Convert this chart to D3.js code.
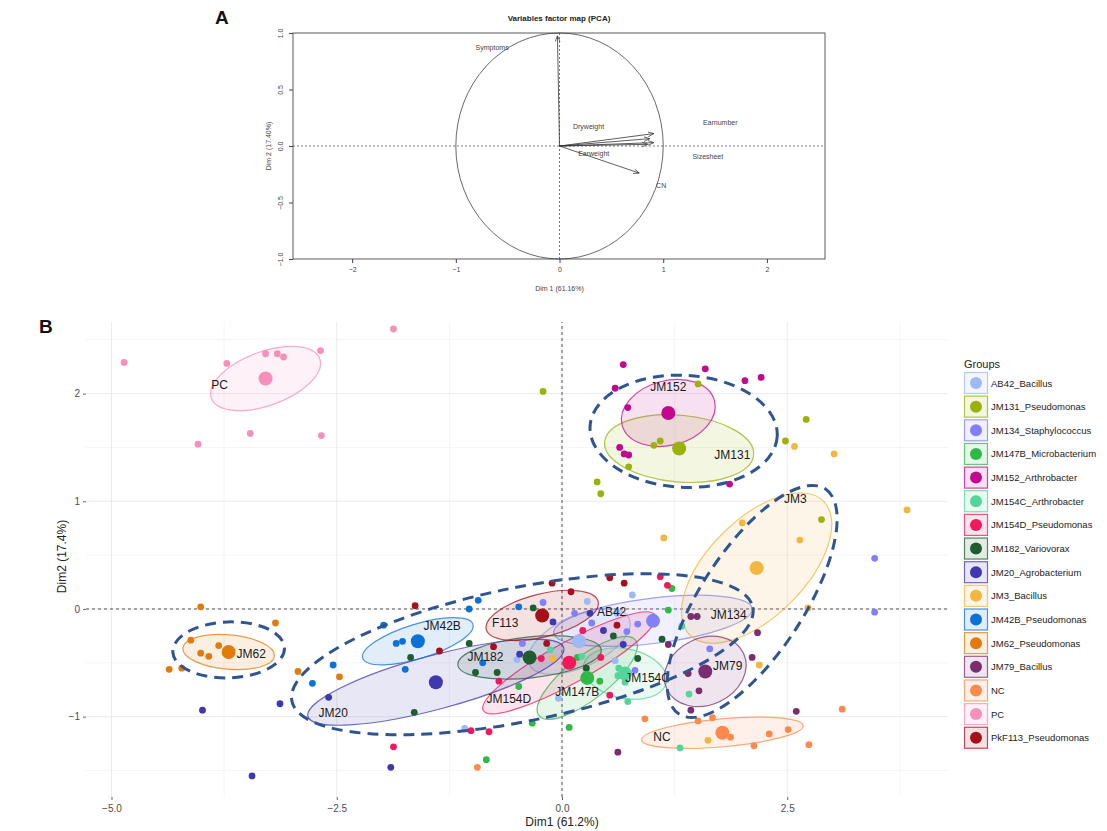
<!DOCTYPE html>
<html>
<head>
<meta charset="utf-8">
<script src="https://cdn.jsdelivr.net/npm/d3@7"></script>
<style>
  body { margin: 0; background: #fff; }
  svg { display: block; font-family: "Liberation Sans", Arial, sans-serif; }
</style>
</head>
<body>
<svg id="chart" width="1107" height="831"></svg>
<script>
// ---------- Panel A : variables factor map ----------
const varNames = ["Symptoms", "Dryweight", "Earnumber", "Earweight", "Sizesheet", "CN"];
const varX = [-0.02, 0.91, 0.87, 0.85, 0.91, 0.77];
const varY = [0.976, 0.11, 0.065, 0.015, 0.03, -0.24];
const varLabelX = [-0.65, 0.28, 1.55, 0.33, 1.43, 0.98];
const varLabelY = [0.87, 0.17, 0.21, -0.07, -0.09, -0.35];
const pcaXTicks = [-2, -1, 0, 1, 2];
const pcaYTicks = [-1, -0.5, 0, 0.5, 1];

// ---------- Panel B : individuals ----------
const groups = ["AB42_Bacillus", "JM131_Pseudomonas", "JM134_Staphylococcus", "JM147B_Microbacterium",
  "JM152_Arthrobacter", "JM154C_Arthrobacter", "JM154D_Pseudomonas", "JM182_Variovorax",
  "JM20_Agrobacterium", "JM3_Bacillus", "JM42B_Pseudomonas", "JM62_Pseudomonas",
  "JM79_Bacillus", "NC", "PC", "PkF113_Pseudomonas"];
const groupColors = ["#9DB9F6", "#9AB20A", "#8180F5", "#2FB947", "#C1098F", "#53D69B", "#F2185C", "#1F5D30",
  "#4038B0", "#F1B73E", "#0C71D7", "#E17C0A", "#7A2D70", "#FD8A4C", "#F78FBA", "#A5101A"];
const groupLabels = ["AB42", "JM131", "JM134", "JM147B", "JM152", "JM154C", "JM154D", "JM182",
  "JM20", "JM3", "JM42B", "JM62", "JM79", "NC", "PC", "F113"];

const ptsAB42 = [[0.78,0.13],[0.28,0.07],[0.61,-0.04],[-0.50,-0.47],[0.59,-0.48],[-0.04,-0.83],[-1.08,-1.11]];
const ptsJM131 = [[-0.21,2.02],[1.51,2.09],[2.71,1.76],[2.48,1.56],[1.09,1.56],[1.02,1.52],[0.74,1.32],[0.39,1.18],[0.43,1.07],[2.88,0.83]];
const ptsJM134 = [[0.14,-0.04],[0.33,-0.13],[0.84,-0.14],[0.81,-0.57],[1.64,-0.37],[3.47,0.47],[3.47,-0.03],[-0.21,0.06],[-0.44,-0.32],[0.72,-0.21]];
const ptsJM147B = [[-0.48,-0.72],[-0.33,-1.06],[-0.84,-1.40],[0.08,-1.10],[1.22,0.19],[0.17,-0.45],[1.18,-0.01],[0.42,-0.67]];
const ptsJM152 = [[0.68,2.27],[1.59,2.23],[2.03,2.12],[2.21,2.15],[0.59,2.05],[0.73,1.87],[0.64,1.50],[0.69,1.44],[0.74,1.43],[1.86,1.16]];
const ptsJM154C = [[-0.13,-0.38],[0.22,-0.44],[0.63,-0.55],[0.62,-0.62],[0.70,-0.68],[0.73,-0.86],[1.33,-0.16],[1.31,-1.29],[1.41,-0.79]];
const ptsJM154D = [[-1.87,-1.28],[-1.01,-1.13],[-0.81,-1.14],[-0.70,-0.67],[-0.23,-0.46],[0.53,-0.80],[1.09,0.30],[1.17,0.22],[0.23,-0.20],[0.43,-0.45]];
const ptsJM182 = [[-1.68,-0.45],[-1.64,-0.96],[-1.03,-0.32],[-0.96,-0.59],[-0.72,-0.59],[-0.32,0.01],[0.27,-0.55],[0.57,-0.25],[0.84,-0.46],[1.11,-0.28]];
const ptsJM20 = [[-3.99,-0.94],[-3.13,-0.88],[-3.44,-1.55],[-2.59,-0.82],[-1.90,-1.47],[-0.10,-0.12],[-0.47,-0.42],[0.31,-0.04],[0.46,-0.20],[0.68,-0.33]];
const ptsJM3 = [[3.83,0.92],[2.00,0.80],[2.64,0.64],[1.13,0.66],[2.73,0.01],[2.19,-0.52],[2.58,1.51],[3.02,1.44],[-0.10,-0.46],[1.62,-1.22]];
const ptsJM42B = [[-2.54,-0.52],[-2.77,-0.69],[-1.98,-0.15],[-1.84,-0.32],[-1.77,-0.30],[-1.74,-0.56],[-1.03,0.00],[-0.93,0.08],[-0.48,0.02],[-0.88,-0.50]];
const ptsJM62 = [[-4.01,0.02],[-3.18,-0.13],[-4.12,-0.29],[-3.81,-0.34],[-4.01,-0.41],[-3.92,-0.44],[-4.36,-0.56],[-4.22,-0.55],[-2.93,-0.58],[-2.47,-0.63]];
const ptsJM79 = [[1.43,-0.07],[1.50,-0.07],[2.17,-0.22],[2.11,-0.45],[1.40,-0.60],[1.52,-0.76],[1.43,-0.94],[2.60,-0.95],[0.62,-1.33],[1.18,-0.33]];
const ptsNC = [[0.92,-1.02],[1.51,-1.04],[1.67,-1.01],[1.87,-1.19],[2.13,-1.27],[2.30,-1.16],[2.51,-1.12],[2.74,-1.26],[3.11,-0.93],[-0.94,-1.47]];
const ptsPC = [[-4.86,2.29],[-3.72,2.28],[-3.29,2.37],[-3.16,2.37],[-3.09,2.34],[-2.68,2.40],[-3.46,1.63],[-4.04,1.53],[-2.67,1.61],[-1.87,2.60]];
const ptsF113 = [[-1.63,0.03],[-1.36,-0.39],[-0.76,-0.35],[-0.17,-0.32],[-0.11,0.24],[0.10,0.16],[0.53,0.29],[0.69,0.24],[0.61,-0.15]];
const groupPoints = [ptsAB42, ptsJM131, ptsJM134, ptsJM147B, ptsJM152, ptsJM154C, ptsJM154D, ptsJM182,
  ptsJM20, ptsJM3, ptsJM42B, ptsJM62, ptsJM79, ptsNC, ptsPC, ptsF113];

// group means (big points)
const centroidX = [0.19, 1.30, 1.01, 0.28, 1.18, 0.70, 0.08, -0.36, -1.40, 2.16, -1.60, -3.70, 1.59, 1.78, -3.29, -0.22];
const centroidY = [-0.30, 1.49, -0.11, -0.64, 1.82, -0.60, -0.50, -0.45, -0.68, 0.38, -0.30, -0.40, -0.58, -1.15, 2.14, -0.06];
// confidence ellipses: semi-axes and tilt (degrees)
const ellA = [0.61, 0.83, 1.11, 0.68, 0.53, 0.47, 1.09, 0.80, 1.47, 1.05, 0.64, 0.51, 0.47, 0.90, 0.64, 0.64];
const ellB = [0.24, 0.31, 0.21, 0.20, 0.30, 0.23, 0.19, 0.19, 0.25, 0.45, 0.16, 0.16, 0.31, 0.13, 0.25, 0.20];
const ellAngle = [25, -5, 7, 38, 15, -12, 29, 6, 15, 45, 17, -5, 25, 5, 20, 14];
// label positions
const labelX = [0.55, 1.89, 1.85, 0.17, 1.18, 0.95, -0.59, -0.85, -2.54, 2.59, -1.33, -3.45, 1.84, 1.11, -3.80, -0.63];
const labelY = [-0.03, 1.43, -0.06, -0.77, 2.06, -0.64, -0.84, -0.45, -0.97, 1.02, -0.16, -0.42, -0.53, -1.19, 2.08, -0.13];

// hand-drawn cluster outlines (dashed)
const clusterX = [1.35, 2.11, -0.44, -3.70];
const clusterY = [1.65, 0.07, -0.42, -0.38];
const clusterA = [1.04, 1.49, 2.61, 0.62];
const clusterB = [0.52, 0.48, 0.62, 0.26];
const clusterAngle = [-3, 57, 11.5, 2];

const bXTicks = [-5, -2.5, 0, 2.5];
const bYTicks = [-1, 0, 1, 2];
const bXMinor = [-3.75, -1.25, 1.25, 3.75];
const bYMinor = [-1.5, -0.5, 0.5, 1.5, 2.5];

const svg = d3.select("#chart");

// ================= Panel A =================
const xA = d3.scaleLinear().domain([-2.57, 2.56]).range([293, 825]);
const yA = d3.scaleLinear().domain([-1, 1]).range([259, 33]);
const gA = svg.append("g");

svg.append("text").attr("x", 215).attr("y", 24)
  .attr("font-size", 19).attr("font-weight", "bold").attr("fill", "#111").text("A");

gA.append("text").attr("x", (xA.range()[0] + xA.range()[1]) / 2).attr("y", 21)
  .attr("text-anchor", "middle").attr("font-size", 8).attr("font-weight", "bold").attr("fill", "#222")
  .text("Variables factor map (PCA)");

// unit circle
gA.append("ellipse").attr("cx", xA(0)).attr("cy", yA(0))
  .attr("rx", xA(1) - xA(0)).attr("ry", yA(0) - yA(1))
  .attr("fill", "none").attr("stroke", "#444").attr("stroke-width", 0.8);

gA.append("line").attr("x1", xA.range()[0]).attr("x2", xA.range()[1]).attr("y1", yA(0)).attr("y2", yA(0))
  .attr("stroke", "#555").attr("stroke-width", 0.8).attr("stroke-dasharray", "2 2");
gA.append("line").attr("x1", xA(0)).attr("x2", xA(0)).attr("y1", yA(1)).attr("y2", yA(-1))
  .attr("stroke", "#555").attr("stroke-width", 0.8).attr("stroke-dasharray", "2 2");

svg.append("defs").append("marker").attr("id", "arrowA")
  .attr("viewBox", "0 0 10 10").attr("refX", 10).attr("refY", 5)
  .attr("markerWidth", 6).attr("markerHeight", 6).attr("markerUnits", "userSpaceOnUse")
  .attr("orient", "auto")
  .append("path").attr("d", "M0,1 L10,5 L0,9").attr("fill", "none").attr("stroke", "#333").attr("stroke-width", 1.2);

gA.selectAll("line.arrow").data(varNames).join("line").attr("class", "arrow")
  .attr("x1", xA(0)).attr("y1", yA(0))
  .attr("x2", (d, i) => xA(varX[i])).attr("y2", (d, i) => yA(varY[i]))
  .attr("stroke", "#333").attr("stroke-width", 0.8).attr("marker-end", "url(#arrowA)");

gA.selectAll("text.var").data(varNames).join("text").attr("class", "var")
  .attr("x", (d, i) => xA(varLabelX[i])).attr("y", (d, i) => yA(varLabelY[i]))
  .attr("text-anchor", "middle").attr("dominant-baseline", "central")
  .attr("font-size", 7).attr("fill", "#444").text(d => d);

gA.append("rect").attr("x", xA.range()[0]).attr("y", yA.range()[1])
  .attr("width", xA.range()[1] - xA.range()[0]).attr("height", yA.range()[0] - yA.range()[1])
  .attr("fill", "none").attr("stroke", "#333").attr("stroke-width", 0.8);

const axA = gA.append("g").attr("transform", `translate(0,${yA.range()[0]})`)
  .call(d3.axisBottom(xA).tickValues(pcaXTicks).tickSize(4).tickFormat(d3.format("d")));
axA.select(".domain").remove();
axA.selectAll("line").attr("stroke", "#444");
axA.selectAll("text").attr("font-size", 7).attr("fill", "#444").attr("dy", "0.9em");

const ayA = gA.append("g").attr("transform", `translate(${xA.range()[0]},0)`)
  .call(d3.axisLeft(yA).tickValues(pcaYTicks).tickSize(4).tickFormat(d3.format(".1f")));
ayA.select(".domain").remove();
ayA.selectAll("line").attr("stroke", "#444");
ayA.selectAll("text").attr("font-size", 7).attr("fill", "#444")
  .attr("text-anchor", "middle").attr("x", 0).attr("dy", 0)
  .attr("transform", "translate(-10,0) rotate(-90)");

gA.append("text").attr("x", xA(0)).attr("y", 291).attr("text-anchor", "middle")
  .attr("font-size", 7).attr("fill", "#444").text("Dim 1 (61.16%)");
gA.append("text").attr("transform", `translate(271,${yA(0)}) rotate(-90)`).attr("text-anchor", "middle")
  .attr("font-size", 7).attr("fill", "#444").text("Dim 2 (17.40%)");

// ================= Panel B =================
const xB = d3.scaleLinear().domain([-5.283, 4.284]).range([86, 948]);
const yB = d3.scaleLinear().domain([-1.746, 2.665]).range([797, 322]);
const gB = svg.append("g");

svg.append("text").attr("x", 39).attr("y", 333)
  .attr("font-size", 19).attr("font-weight", "bold").attr("fill", "#111").text("B");

// grid
gB.selectAll("line.vminor").data(bXMinor).join("line")
  .attr("x1", d => xB(d)).attr("x2", d => xB(d)).attr("y1", yB.range()[0]).attr("y2", yB.range()[1])
  .attr("stroke", "#F3F3F3").attr("stroke-width", 0.8);
gB.selectAll("line.hminor").data(bYMinor).join("line")
  .attr("y1", d => yB(d)).attr("y2", d => yB(d)).attr("x1", xB.range()[0]).attr("x2", xB.range()[1])
  .attr("stroke", "#F3F3F3").attr("stroke-width", 0.8);
gB.selectAll("line.vmajor").data(bXTicks).join("line")
  .attr("x1", d => xB(d)).attr("x2", d => xB(d)).attr("y1", yB.range()[0]).attr("y2", yB.range()[1])
  .attr("stroke", "#EBEBEB").attr("stroke-width", 1);
gB.selectAll("line.hmajor").data(bYTicks).join("line")
  .attr("y1", d => yB(d)).attr("y2", d => yB(d)).attr("x1", xB.range()[0]).attr("x2", xB.range()[1])
  .attr("stroke", "#EBEBEB").attr("stroke-width", 1);

// axes
const axB = gB.append("g").attr("transform", `translate(0,${yB.range()[0]})`)
  .call(d3.axisBottom(xB).tickValues(bXTicks).tickSize(3).tickFormat(d3.format(".1f")));
axB.select(".domain").remove();
axB.selectAll("line").attr("stroke", "#666");
axB.selectAll("text").attr("font-size", 10).attr("fill", "#4D4D4D").attr("dy", "0.9em");

const ayB = gB.append("g").attr("transform", `translate(${xB.range()[0]},0)`)
  .call(d3.axisLeft(yB).tickValues(bYTicks).tickSize(3).tickFormat(d3.format("d")));
ayB.select(".domain").remove();
ayB.selectAll("line").attr("stroke", "#666");
ayB.selectAll("text").attr("font-size", 10).attr("fill", "#4D4D4D");

gB.append("text").attr("x", xB(0)).attr("y", 826).attr("text-anchor", "middle")
  .attr("font-size", 12).attr("fill", "#222").text("Dim1 (61.2%)");
gB.append("text").attr("transform", `translate(66,${(yB.range()[0] + yB.range()[1]) / 2 - 3}) rotate(-90)`)
  .attr("text-anchor", "middle").attr("font-size", 12).attr("fill", "#222").text("Dim2 (17.4%)");

// zero lines
gB.append("line").attr("x1", xB.range()[0]).attr("x2", xB.range()[1]).attr("y1", yB(0)).attr("y2", yB(0))
  .attr("stroke", "#555").attr("stroke-width", 1).attr("stroke-dasharray", "3 3");
gB.append("line").attr("x1", xB(0)).attr("x2", xB(0)).attr("y1", yB.range()[0]).attr("y2", yB.range()[1])
  .attr("stroke", "#555").attr("stroke-width", 1).attr("stroke-dasharray", "3 3");

const idx = d3.range(groups.length);

// group ellipses
gB.selectAll("ellipse.grp").data(idx).join("ellipse").attr("class", "grp")
  .attr("transform", i => `translate(${xB(centroidX[i])},${yB(centroidY[i])}) rotate(${-ellAngle[i]})`)
  .attr("rx", i => xB(ellA[i]) - xB(0))
  .attr("ry", i => yB(0) - yB(ellB[i]))
  .attr("fill", i => groupColors[i]).attr("fill-opacity", 0.12)
  .attr("stroke", i => groupColors[i]).attr("stroke-opacity", 0.75).attr("stroke-width", 1.2);

// individual points
const allPts = [];
groupPoints.forEach((pts, gi) => pts.forEach(p => allPts.push({ g: gi, x: p[0], y: p[1] })));
gB.selectAll("circle.pt").data(allPts).join("circle").attr("class", "pt")
  .attr("cx", d => xB(d.x)).attr("cy", d => yB(d.y)).attr("r", 3.4)
  .attr("fill", d => groupColors[d.g]);

// group means
gB.selectAll("circle.mean").data(idx).join("circle").attr("class", "mean")
  .attr("cx", i => xB(centroidX[i])).attr("cy", i => yB(centroidY[i])).attr("r", 7)
  .attr("fill", i => groupColors[i]);

// labels
gB.selectAll("text.glab").data(idx).join("text").attr("class", "glab")
  .attr("x", i => xB(labelX[i])).attr("y", i => yB(labelY[i]))
  .attr("text-anchor", "middle").attr("dominant-baseline", "central")
  .attr("font-size", 12).attr("fill", "#1a1a1a").text(i => groupLabels[i]);

// dashed cluster outlines
gB.selectAll("ellipse.cluster").data(d3.range(clusterX.length)).join("ellipse").attr("class", "cluster")
  .attr("transform", i => `translate(${xB(clusterX[i])},${yB(clusterY[i])}) rotate(${-clusterAngle[i]})`)
  .attr("rx", i => xB(clusterA[i]) - xB(0))
  .attr("ry", i => yB(0) - yB(clusterB[i]))
  .attr("fill", "none").attr("stroke", "#2E5591").attr("stroke-width", 3)
  .attr("stroke-dasharray", "11 7");

// legend
const lg = svg.append("g").attr("transform", "translate(964,0)");
lg.append("text").attr("x", 0).attr("y", 368).attr("font-size", 11).attr("fill", "#222").text("Groups");
const keyY = i => 383 + i * 23.65;
const keys = lg.selectAll("g.key").data(idx).join("g").attr("class", "key")
  .attr("transform", i => `translate(0,${keyY(i)})`);
keys.append("rect").attr("x", 0.5).attr("y", -10.5).attr("width", 23).attr("height", 21)
  .attr("fill", i => groupColors[i]).attr("fill-opacity", 0.12)
  .attr("stroke", i => groupColors[i]).attr("stroke-opacity", 0.75).attr("stroke-width", 1.2);
keys.append("circle").attr("cx", 12).attr("cy", 0).attr("r", 6).attr("fill", i => groupColors[i]);
keys.append("text").attr("x", 27).attr("y", 3.5).attr("font-size", 9.5).attr("fill", "#222")
  .text(i => groups[i]);
</script>
</body>
</html>
